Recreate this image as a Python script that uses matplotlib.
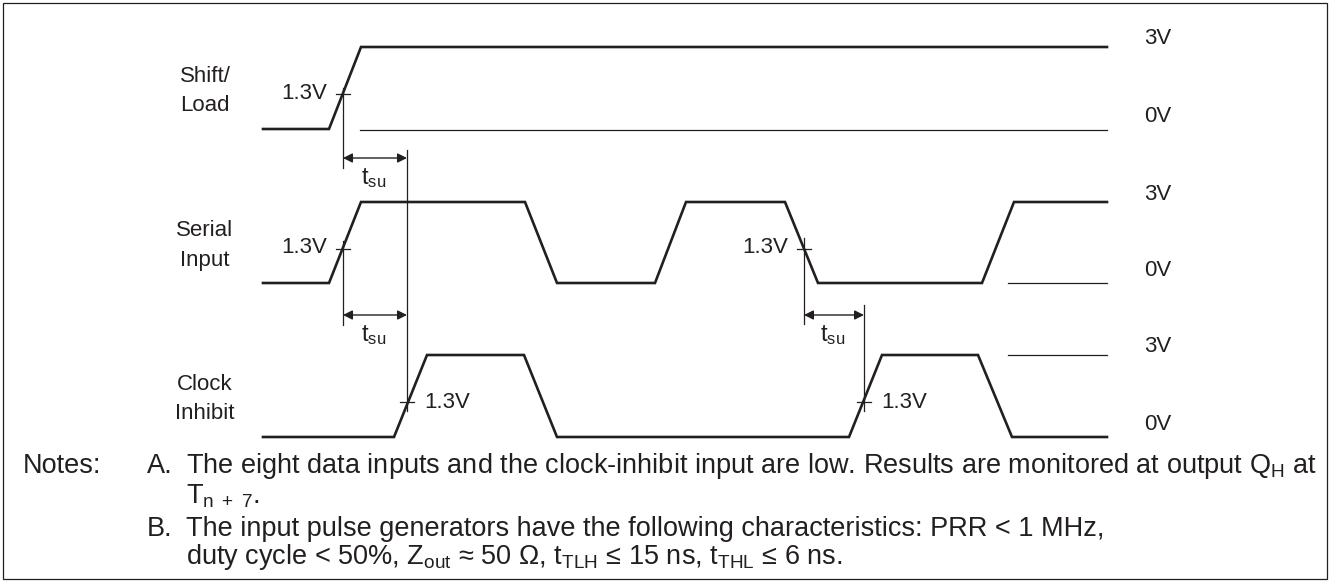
import matplotlib.pyplot as plt
from matplotlib.patches import Rectangle

plt.rcParams['font.family'] = ['Liberation Sans', 'DejaVu Sans']
plt.rcParams['mathtext.fontset'] = 'custom'
plt.rcParams['mathtext.rm'] = 'Liberation Sans'
plt.rcParams['mathtext.it'] = 'Liberation Sans'

ink = '#231f20'

# waveform break points (time axis in px, level 0 = low, 1 = high)
sl_t = [263, 329, 361, 1107]
sl_v = [0, 0, 1, 1]
si_t = [263, 329, 361, 525, 557, 655, 686, 785, 818, 982, 1014, 1107]
si_v = [0, 0, 1, 1, 0, 0, 1, 1, 0, 0, 1, 1]
ci_t = [263, 394, 427, 524, 557, 849, 882, 978, 1012, 1107]
ci_v = [0, 0, 1, 1, 0, 0, 1, 1, 0, 0]

# rows: name, high y, low y
rows = [('Shift/\nLoad', 47, 129), ('Serial\nInput', 202, 283), ('Clock\nInhibit', 355, 437)]
waves = [(sl_t, sl_v), (si_t, si_v), (ci_t, ci_v)]

# 1.3V crossings: (x, row index)
cross_x = [343, 343, 804, 407, 864]
cross_row = [0, 1, 1, 2, 2]

notes = [
    ('Notes:', 'A.', r'The eight data inputs and the clock-inhibit input are low. Results are monitored at output Q$_\mathregular{H}$ at'),
    ('', '', r'T$_\mathregular{n\ +\ 7}$.'),
    ('', 'B.', 'The input pulse generators have the following characteristics: PRR < 1 MHz,'),
    ('', '', r'duty cycle < 50%, Z$_\mathregular{out}$ ≈ 50 Ω, t$_\mathregular{TLH}$ ≤ 15 ns, t$_\mathregular{THL}$ ≤ 6 ns.'),
]
note_y = [466, 496, 529, 557]

fig = plt.figure(figsize=(13.29, 5.81), dpi=100)
ax = fig.add_axes([0, 0, 1, 1])
ax.set_xlim(0, 1329)
ax.set_ylim(581, 0)
ax.axis('off')

ax.add_patch(Rectangle((2.5, 2.5), 1324, 576, fill=False, lw=0.9, ec=ink))

fs = 16
for (name, yh, yl), (t, v) in zip(rows, waves):
    ys = [yl + (yh - yl) * k for k in v]
    ax.plot(t, ys, color=ink, lw=1.9, solid_joinstyle='miter')
    ax.text(205, (yh + yl) / 2 + 3, name, ha='center', va='center', fontsize=fs,
            linespacing=1.55, color=ink)
    ax.text(1144, yh - 8, '3V', ha='left', va='center', fontsize=fs, color=ink)
    ax.text(1144, yl - 13, '0V', ha='left', va='center', fontsize=fs, color=ink)

# thin reference levels
ax.plot([360, 1107], [130, 130], color=ink, lw=0.9)
ax.plot([1008, 1107], [283, 283], color=ink, lw=0.9)
ax.plot([1008, 1107], [355, 355], color=ink, lw=0.9)

# 1.3V marks
for x, r in zip(cross_x, cross_row):
    yh, yl = rows[r][1], rows[r][2]
    yc = yl + (yh - yl) * 1.3 / 3 + 1
    ax.plot([x - 7, x + 7], [yc, yc], color=ink, lw=0.9)
    if r < 2:
        ax.text(x - 16, yc - 1, '1.3V', ha='right', va='center', fontsize=fs, color=ink)
    else:
        ax.text(x + 17, yc, '1.3V', ha='left', va='center', fontsize=fs, color=ink)

# vertical reference lines
vlines = [(343, 88, 168), (343, 241, 325), (804, 238, 324), (407, 150, 411), (864, 305, 411)]
for x, y0, y1 in vlines:
    ax.plot([x, x], [y0, y1], color=ink, lw=0.9)

# setup time arrows
arrows = [(343, 407, 158), (343, 407, 315), (804, 864, 315)]
for x0, x1, y in arrows:
    ax.annotate('', xy=(x1, y), xytext=(x0, y),
                arrowprops=dict(arrowstyle='<|-|>', color=ink, lw=1.0,
                                mutation_scale=14, shrinkA=0, shrinkB=0))
    ax.text((x0 + x1) / 2 - 1, y + 20, r'$\mathregular{t_{su}}$', ha='center', va='center',
            fontsize=fs + 1, color=ink)

# notes
nfs = 19.5
for (lab, key, txt), y in zip(notes, note_y):
    if lab:
        ax.text(23, y, lab, ha='left', va='center', fontsize=nfs, color=ink)
    if key:
        ax.text(147, y, key, ha='left', va='center', fontsize=nfs, color=ink)
    ax.text(186, y, txt, ha='left', va='center', fontsize=nfs, color=ink)

fig.savefig('out.png', dpi=100)
